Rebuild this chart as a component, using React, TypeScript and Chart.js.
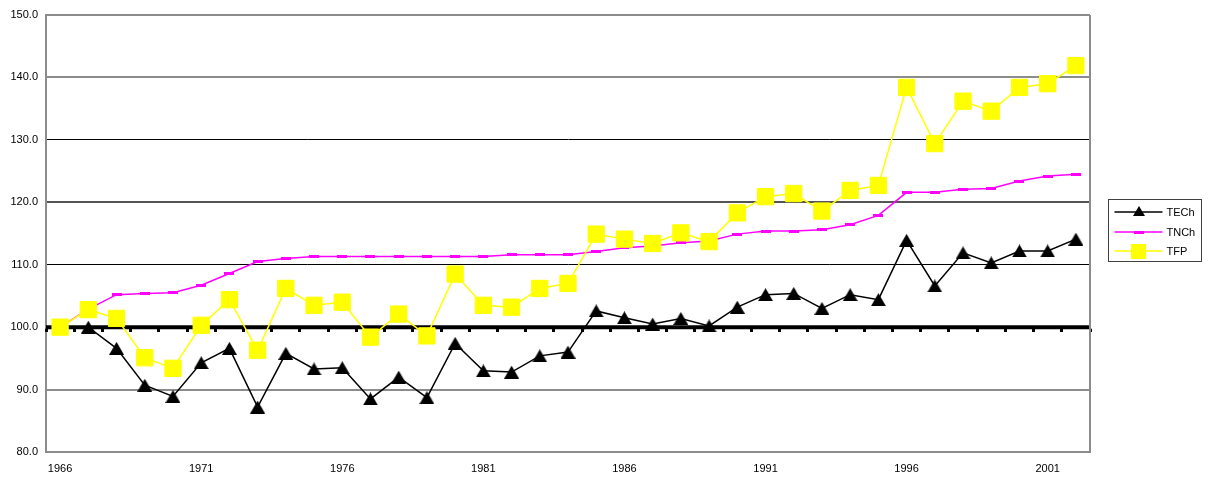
import { useEffect, useRef } from "react";
import { Chart, registerables } from "chart.js";

Chart.register(...registerables);

// ---- data ----
const YEARS = [
  "1966", "1967", "1968", "1969", "1970", "1971", "1972", "1973", "1974", "1975",
  "1976", "1977", "1978", "1979", "1980", "1981", "1982", "1983", "1984", "1985",
  "1986", "1987", "1988", "1989", "1990", "1991", "1992", "1993", "1994", "1995",
  "1996", "1997", "1998", "1999", "2000", "2001", "2002",
];

const TECH = [
  100.0, 100.0, 96.6, 90.7, 88.9, 94.3, 96.6, 87.2, 95.8, 93.3,
  93.5, 88.5, 92.0, 88.7, 97.4, 93.0, 92.8, 95.4, 96.0, 102.6,
  101.5, 100.5, 101.4, 100.2, 103.2, 105.2, 105.4, 103.0, 105.2, 104.4,
  113.9, 106.6, 111.9, 110.3, 112.2, 112.2, 114.1,
];

const TNCH = [
  100.0, 102.9, 105.2, 105.4, 105.5, 106.7, 108.6, 110.5, 111.0, 111.3,
  111.3, 111.3, 111.3, 111.3, 111.3, 111.3, 111.6, 111.6, 111.6, 112.1,
  112.7, 113.0, 113.5, 113.8, 114.9, 115.4, 115.4, 115.6, 116.4, 117.9,
  121.6, 121.6, 122.1, 122.2, 123.4, 124.2, 124.5,
];

const TFP = [
  100.0, 102.8, 101.4, 95.1, 93.4, 100.3, 104.4, 96.3, 106.2, 103.5,
  104.0, 98.4, 102.1, 98.6, 108.5, 103.5, 103.2, 106.2, 107.0, 114.9,
  114.1, 113.4, 115.1, 113.7, 118.3, 120.9, 121.4, 118.6, 121.9, 122.7,
  138.4, 129.4, 136.2, 134.6, 138.4, 139.0, 141.9,
];

// reference line at 100, drawn across category boundaries (38 slots)
const BASE_SLOTS = [
  "b0", "b1", "b2", "b3", "b4", "b5", "b6", "b7", "b8", "b9",
  "b10", "b11", "b12", "b13", "b14", "b15", "b16", "b17", "b18", "b19",
  "b20", "b21", "b22", "b23", "b24", "b25", "b26", "b27", "b28", "b29",
  "b30", "b31", "b32", "b33", "b34", "b35", "b36", "b37",
];
const BASELINE = [
  100, 100, 100, 100, 100, 100, 100, 100, 100, 100,
  100, 100, 100, 100, 100, 100, 100, 100, 100, 100,
  100, 100, 100, 100, 100, 100, 100, 100, 100, 100,
  100, 100, 100, 100, 100, 100, 100, 100,
];

const SERIES_NAMES = ["TECh", "TNCh", "TFP"];
const Y_MIN = 80;
const Y_MAX = 150;
const Y_STEP = 10;
const X_LABEL_EVERY = 5;

const FONT = "'Liberation Sans', Arial, Helvetica, sans-serif";

function makeTriangle(w: number, h: number, color: string) {
  const c = document.createElement("canvas");
  c.width = w;
  c.height = h;
  const g = c.getContext("2d")!;
  g.fillStyle = color;
  g.beginPath();
  g.moveTo(w / 2, 0);
  g.lineTo(w, h);
  g.lineTo(0, h);
  g.closePath();
  g.fill();
  return c;
}

function makeRect(w: number, h: number, color: string, y0 = 0, rh = h) {
  const c = document.createElement("canvas");
  c.width = w;
  c.height = h;
  const g = c.getContext("2d")!;
  g.fillStyle = color;
  g.fillRect(0, y0, w, rh);
  return c;
}

export default function App() {
  const ref = useRef<HTMLCanvasElement>(null);

  useEffect(() => {
    const canvas = ref.current!;
    const tri = makeTriangle(15, 13, "#000000");
    const triSmall = makeTriangle(12, 10, "#000000");
    const dash = makeRect(10, 3, "#FF00FF");
    const baseMark = makeRect(3, 9, "#000000", 6, 3);

    const legendPlugin = {
      id: "boxLegend",
      afterDraw(chart: any) {
        const { ctx, chartArea } = chart;
        ctx.save();
        // right frame of plot area
        ctx.strokeStyle = "#8c8c8c";
        ctx.lineWidth = 2;
        ctx.beginPath();
        ctx.moveTo(chartArea.right, chartArea.top);
        ctx.lineTo(chartArea.right, chartArea.bottom);
        ctx.stroke();

        const left = chartArea.right + 18.5;
        const top = chartArea.top + 184.5;
        const w = 93;
        const h = 62;
        ctx.fillStyle = "#ffffff";
        ctx.fillRect(left, top, w, h);
        ctx.strokeStyle = "#404040";
        ctx.lineWidth = 1;
        ctx.strokeRect(left, top, w, h);

        const colors = ["#000000", "#FF00FF", "#FFFF00"];
        ctx.font = `11px ${FONT}`;
        ctx.textBaseline = "middle";
        ctx.textAlign = "left";
        SERIES_NAMES.forEach((name, i) => {
          const y = Math.round(top + 12.5 + i * 19.5);
          ctx.strokeStyle = colors[i];
          ctx.lineWidth = 1.5;
          ctx.beginPath();
          ctx.moveTo(left + 6, y);
          ctx.lineTo(left + 54, y);
          ctx.stroke();
          const cx = left + 30;
          if (i === 0) ctx.drawImage(triSmall, Math.round(cx - 6), y - 6);
          if (i === 1) ctx.drawImage(dash, Math.round(cx - 5), y - 1);
          if (i === 2) {
            ctx.fillStyle = "#FFFF00";
            ctx.fillRect(Math.round(cx - 7.5), y - 7, 15, 15);
          }
          ctx.fillStyle = "#000000";
          ctx.fillText(name, left + 58, y + 0.5);
        });
        ctx.restore();
      },
    };

    const gridColor = (v: number) => {
      if (v === 130 || v === 110 || v === 100) return "#000000";
      if (v === 120) return "#555555";
      return "#8c8c8c";
    };
    const gridWidth = (v: number) => (v === 130 || v === 110 || v === 100 ? 1 : 2);

    const chart = new Chart(canvas, {
      type: "line",
      data: {
        labels: YEARS,
        datasets: [
          {
            label: SERIES_NAMES[0],
            data: TECH,
            borderColor: "#000000",
            backgroundColor: "#000000",
            borderWidth: 1.5,
            pointStyle: tri as any,
            pointRadius: 7,
            order: 1,
          },
          {
            label: SERIES_NAMES[1],
            data: TNCH,
            borderColor: "#FF00FF",
            backgroundColor: "#FF00FF",
            borderWidth: 1.5,
            pointStyle: dash as any,
            pointRadius: 5,
            order: 2,
          },
          {
            label: SERIES_NAMES[2],
            data: TFP,
            borderColor: "#FFFF00",
            backgroundColor: "#FFFF00",
            borderWidth: 1.5,
            pointStyle: "rect",
            pointRadius: 11.5,
            pointBorderWidth: 1,
            pointBorderColor: "#FFFF00",
            pointBackgroundColor: "#FFFF00",
            order: 0,
          },
          {
            label: "base",
            data: BASELINE,
            xAxisID: "x2",
            borderColor: "#000000",
            backgroundColor: "#000000",
            borderWidth: 4,
            pointStyle: baseMark as any,
            pointRadius: 3,
            order: 3,
          },
        ],
      },
      options: {
        responsive: false,
        maintainAspectRatio: false,
        animation: false,
        devicePixelRatio: 1,
        layout: { padding: { top: 15, right: 122, left: 0, bottom: 0 } },
        plugins: {
          legend: { display: false },
          tooltip: { enabled: false },
        },
        elements: { line: { tension: 0 } },
        scales: {
          x: {
            type: "category",
            offset: true,
            grid: { display: false, drawTicks: false },
            border: { display: true, color: "#8c8c8c", width: 2 },
            ticks: {
              autoSkip: false,
              maxRotation: 0,
              padding: 10,
              color: "#000000",
              font: { family: FONT, size: 11 },
              callback: (_v: any, i: number) => (i % X_LABEL_EVERY === 0 ? YEARS[i] : ""),
            },
            afterFit: (s: any) => {
              s.height = 29;
            },
          },
          x2: {
            type: "category",
            labels: BASE_SLOTS,
            offset: false,
            display: false,
          },
          y: {
            min: Y_MIN,
            max: Y_MAX,
            grid: {
              drawTicks: false,
              color: (c: any) => gridColor(c.tick?.value),
              lineWidth: (c: any) => gridWidth(c.tick?.value),
            },
            border: { display: true, color: "#8c8c8c", width: 2 },
            ticks: {
              stepSize: Y_STEP,
              padding: 8,
              color: "#000000",
              font: { family: FONT, size: 11 },
              callback: (v: any) => Number(v).toFixed(1),
            },
            afterFit: (s: any) => {
              s.width = 46;
            },
          },
        },
      },
      plugins: [legendPlugin],
    } as any);

    return () => chart.destroy();
  }, []);

  return (
    <div style={{ width: 1212, height: 481, background: "#ffffff" }}>
      <style>{"body{margin:0;background:#fff}"}</style>
      <canvas ref={ref} width={1212} height={481} style={{ display: "block" }} />
    </div>
  );
}
